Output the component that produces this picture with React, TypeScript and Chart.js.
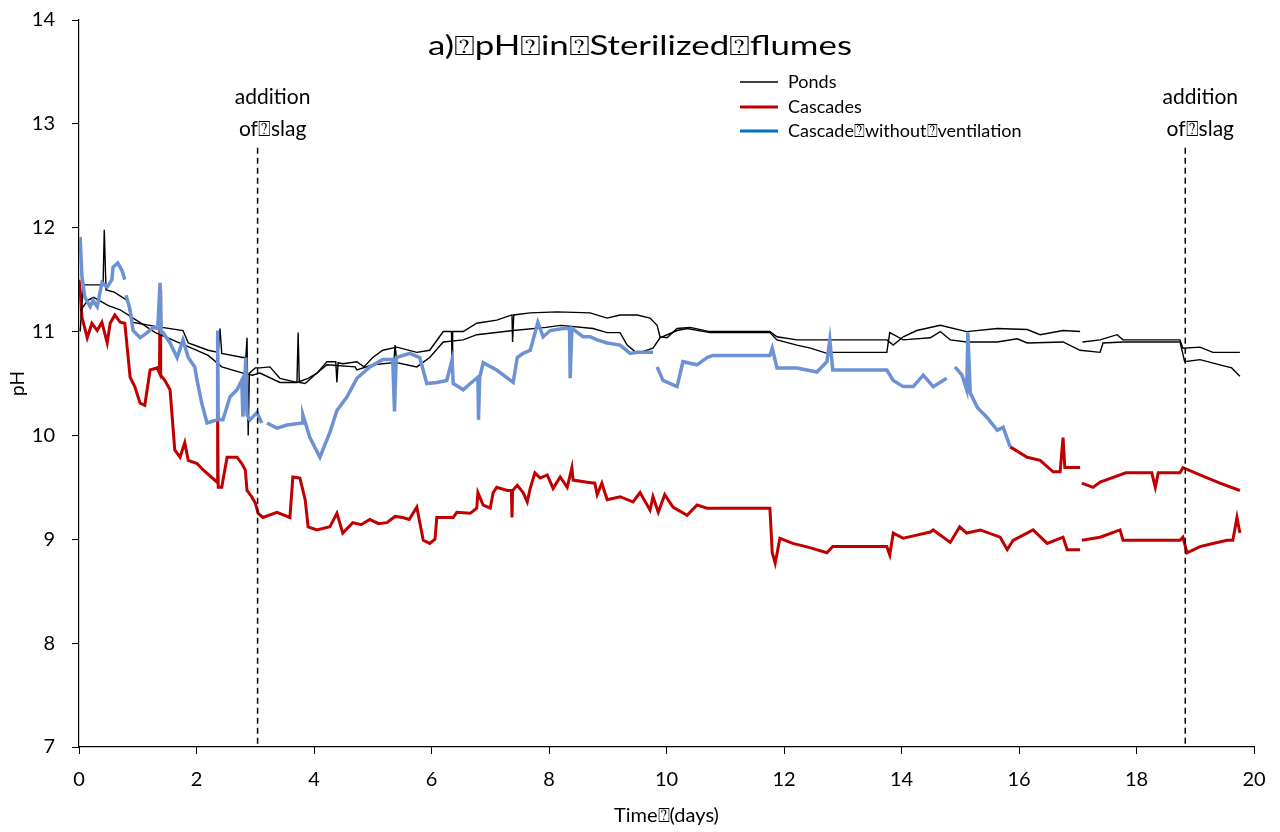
import React, { useEffect, useRef } from "react";
import { Chart, registerables } from "chart.js";

Chart.register(...registerables);

type P = { x: number; y: number | null };
const pts = (arr: (number | null)[][]): P[] =>
  arr.map((a) => ({ x: a[0] as number, y: a[1] as number | null }));

const TITLE = "a)\u2370pH\u2370in\u2370Sterilized\u2370flumes";
const X_TITLE = "Time\u2370(days)";
const Y_TITLE = "pH";
const LEGEND_LABELS = ["Ponds", "Cascades", "Cascade\u2370without\u2370ventilation"];
const ANNOT_TEXT = ["addition", "of\u2370slag"];
const SLAG_DAYS = [3.04, 18.83];
const X_TICKS = [0, 2, 4, 6, 8, 10, 12, 14, 16, 18, 20];
const Y_TICKS = [7, 8, 9, 10, 11, 12, 13, 14];

const pondsA = pts([
  [0.02, 11.0], [0.07, 11.45], [0.3, 11.45], [0.41, 11.45], [0.43, 11.98], [0.46, 11.4], [0.6, 11.38],
  [0.82, 11.3], [0.9, 11.09], [1.3, 11.05], [1.77, 11.01], [1.86, 10.89], [2.2, 10.82], [2.37, 10.8],
  [2.4, 11.03], [2.43, 10.79], [2.79, 10.75], [2.84, 10.75], [2.86, 10.94], [2.88, 10.0], [2.9, 10.6],
  [3.0, 10.65], [3.08, 10.65], [3.25, 10.66], [3.42, 10.55], [3.71, 10.51], [3.73, 10.99], [3.75, 10.51],
  [3.85, 10.5], [4.05, 10.6], [4.22, 10.71], [4.37, 10.71], [4.39, 10.51], [4.41, 10.7], [4.49, 10.69],
  [4.73, 10.71], [4.85, 10.66], [5.0, 10.75], [5.17, 10.82], [5.41, 10.85], [5.75, 10.8], [5.97, 10.82],
  [6.2, 11.0], [6.34, 11.0], [6.35, 10.71], [6.36, 11.0], [6.54, 11.0], [6.77, 11.08], [7.11, 11.11],
  [7.37, 11.16], [7.38, 10.9], [7.4, 11.16], [7.68, 11.18], [8.14, 11.19], [8.7, 11.18], [8.99, 11.13],
  [9.21, 11.16], [9.5, 11.16], [9.72, 11.13], [9.84, 11.06], [9.89, 10.95], [10.01, 10.94], [10.18, 11.03],
  [10.4, 11.04], [10.74, 11.0], [11.76, 11.0], [11.88, 10.95], [12.22, 10.92], [12.78, 10.92], [13.75, 10.92],
  [13.86, 10.87], [14.03, 10.95], [14.26, 11.01], [14.66, 11.06], [15.11, 11.0], [15.63, 11.03],
  [16.14, 11.02], [16.36, 10.97], [16.75, 11.01], [17.04, 11.0], [17.06, null], [17.08, 10.9],
  [17.38, 10.92], [17.67, 10.97], [17.77, 10.92], [18.74, 10.92], [18.79, 10.84], [19.08, 10.85],
  [19.3, 10.8], [19.76, 10.8],
]);

const pondsB = pts([
  [0.02, 11.2], [0.15, 11.3], [0.25, 11.33], [0.5, 11.25], [0.7, 11.21], [1.0, 11.1], [1.3, 10.99],
  [1.8, 10.87], [2.2, 10.77], [2.43, 10.66], [2.79, 10.6], [2.95, 10.58], [3.08, 10.6], [3.42, 10.51],
  [3.71, 10.51], [3.9, 10.55], [4.05, 10.6], [4.22, 10.68], [4.7, 10.66], [4.73, 10.63], [5.0, 10.68],
  [5.36, 10.7], [5.38, 10.87], [5.41, 10.7], [5.75, 10.66], [5.97, 10.75], [6.2, 10.9], [6.54, 10.92],
  [6.77, 10.97], [7.39, 11.01], [7.95, 11.04], [8.2, 11.06], [8.75, 11.03], [8.99, 10.99], [9.21, 10.99],
  [9.33, 10.87], [9.5, 10.79], [9.77, 10.84], [9.89, 10.94], [10.18, 11.01], [10.35, 11.03],
  [10.74, 10.99], [11.76, 10.99], [11.88, 10.92], [12.22, 10.87], [12.45, 10.84], [12.73, 10.79],
  [12.78, 10.8], [13.75, 10.8], [13.8, 10.99], [14.03, 10.92], [14.49, 10.94], [14.66, 11.0],
  [14.83, 10.92], [15.11, 10.9], [15.63, 10.9], [15.97, 10.93], [16.14, 10.89], [16.75, 10.9],
  [17.04, 10.82], [17.38, 10.8], [17.43, 10.89], [17.77, 10.9], [18.74, 10.9], [18.82, 10.71],
  [19.08, 10.73], [19.42, 10.68], [19.62, 10.65], [19.76, 10.57],
]);

const cascadesA = pts([
  [0, 11.5], [0.02, 11.4], [0.05, 11.14], [0.14, 10.94], [0.22, 11.08], [0.31, 11.01], [0.39, 11.09],
  [0.48, 10.89], [0.53, 11.08], [0.61, 11.16], [0.7, 11.09], [0.78, 11.08], [0.87, 10.56], [0.95, 10.47],
  [1.04, 10.31], [1.12, 10.29], [1.21, 10.63], [1.33, 10.65], [1.37, 10.6], [1.38, 11.4], [1.39, 10.58],
  [1.46, 10.53], [1.55, 10.44], [1.63, 9.86], [1.72, 9.79], [1.8, 9.93], [1.86, 9.76], [2.01, 9.73],
  [2.11, 9.67], [2.35, 9.55], [2.36, 10.15], [2.37, 9.5], [2.43, 9.5], [2.52, 9.79], [2.69, 9.79],
  [2.77, 9.73], [2.83, 9.67], [2.86, 9.47], [2.94, 9.41], [3.0, 9.35], [3.05, 9.25], [3.13, 9.21],
  [3.37, 9.26], [3.59, 9.21], [3.64, 9.6], [3.76, 9.59], [3.85, 9.38], [3.9, 9.12], [4.05, 9.09],
  [4.27, 9.12], [4.39, 9.25], [4.49, 9.06], [4.66, 9.16], [4.8, 9.14], [4.95, 9.19], [5.1, 9.15],
  [5.24, 9.16], [5.38, 9.22], [5.51, 9.21], [5.62, 9.19], [5.75, 9.31], [5.86, 8.99], [5.97, 8.96],
  [6.06, 9.0], [6.09, 9.21], [6.37, 9.21], [6.43, 9.26], [6.66, 9.25], [6.77, 9.3], [6.79, 9.45],
  [6.88, 9.33], [7.0, 9.3], [7.05, 9.45], [7.11, 9.5], [7.29, 9.47], [7.36, 9.47], [7.37, 9.21],
  [7.38, 9.47], [7.46, 9.52], [7.56, 9.45], [7.63, 9.36], [7.68, 9.49], [7.76, 9.64], [7.85, 9.59],
  [7.97, 9.62], [8.07, 9.49], [8.19, 9.6], [8.31, 9.5], [8.39, 9.69], [8.41, 9.57], [8.65, 9.55],
  [8.78, 9.54], [8.82, 9.43], [8.9, 9.54], [8.99, 9.38], [9.21, 9.41], [9.43, 9.36], [9.55, 9.45],
  [9.72, 9.28], [9.77, 9.41], [9.86, 9.26], [9.97, 9.43], [10.11, 9.31], [10.35, 9.23], [10.52, 9.33],
  [10.69, 9.3], [11.76, 9.3], [11.8, 8.87],
  [11.85, 8.77], [11.93, 9.01], [12.15, 8.96], [12.44, 8.92], [12.73, 8.87], [12.83, 8.93], [13.75, 8.93],
  [13.8, 8.85], [13.86, 9.06], [14.03, 9.01], [14.26, 9.04], [14.49, 9.07], [14.54, 9.09], [14.83, 8.97],
  [14.99, 9.12], [15.11, 9.06], [15.34, 9.09], [15.68, 9.02], [15.8, 8.9], [15.9, 8.99], [16.24, 9.09],
  [16.48, 8.96], [16.75, 9.02], [16.82, 8.9], [17.04, 8.9], [17.05, null], [17.07, 8.99], [17.38, 9.02],
  [17.72, 9.09], [17.77, 8.99], [18.74, 8.99], [18.79, 9.02], [18.86, 8.87], [19.08, 8.93], [19.3, 8.96],
  [19.54, 8.99], [19.64, 8.99], [19.71, 9.21], [19.76, 9.06],
]);

const cascadesB = pts([
  [15.85, 9.89], [16.14, 9.79], [16.36, 9.76], [16.58, 9.65], [16.7, 9.65], [16.75, 9.98], [16.78, 9.69],
  [17.04, 9.69], [17.05, null], [17.07, 9.54], [17.26, 9.5], [17.38, 9.55], [17.82, 9.64], [18.26, 9.64],
  [18.32, 9.5], [18.37, 9.64], [18.74, 9.64], [18.79, 9.69], [19.08, 9.62], [19.42, 9.54], [19.76, 9.47],
]);

const noVent = pts([
  [0.02, 11.91], [0.05, 11.53], [0.1, 11.33], [0.19, 11.24], [0.24, 11.3], [0.31, 11.24], [0.39, 11.47],
  [0.48, 11.43], [0.56, 11.5], [0.58, 11.62], [0.66, 11.66], [0.73, 11.59], [0.78, 11.5], [0.79, null],
  [0.8, 11.35], [0.87, 11.21], [0.92, 11.01], [1.04, 10.94], [1.16, 10.99], [1.26, 11.04], [1.34, 11.03],
  [1.38, 11.47], [1.4, 10.99], [1.43, 10.99], [1.55, 10.89], [1.67, 10.75], [1.77, 10.92], [1.86, 10.75],
  [1.97, 10.66], [2.01, 10.53], [2.09, 10.31], [2.18, 10.12], [2.35, 10.15], [2.36, 11.01], [2.37, 10.15],
  [2.45, 10.15], [2.57, 10.37], [2.69, 10.44], [2.77, 10.53], [2.79, 10.18], [2.84, 10.75], [2.86, 10.2],
  [2.91, 10.15], [3.03, 10.22], [3.11, 10.12], [3.15, null], [3.2, 10.12], [3.37, 10.07], [3.54, 10.1],
  [3.8, 10.12], [3.81, 10.2], [3.93, 9.98], [4.1, 9.79], [4.27, 10.03], [4.39, 10.24], [4.56, 10.37],
  [4.73, 10.55], [4.95, 10.66], [5.17, 10.73], [5.34, 10.73], [5.37, 10.23], [5.4, 10.75], [5.63, 10.79],
  [5.8, 10.75], [5.92, 10.5], [6.09, 10.51], [6.26, 10.53], [6.35, 10.73], [6.37, 10.5], [6.54, 10.44],
  [6.66, 10.5], [6.79, 10.56], [6.8, 10.15], [6.82, 10.56], [6.88, 10.7], [7.11, 10.63], [7.39, 10.51],
  [7.46, 10.75], [7.56, 10.79], [7.68, 10.82], [7.73, 10.92], [7.81, 11.09], [7.9, 10.95], [8.02, 11.01],
  [8.24, 11.03], [8.35, 11.03], [8.36, 10.55], [8.39, 11.03], [8.58, 10.95], [8.7, 10.95], [8.82, 10.92],
  [8.99, 10.89], [9.21, 10.87], [9.38, 10.79], [9.5, 10.8], [9.77, 10.8], [9.8, null], [9.84, 10.66],
  [9.94, 10.53], [10.18, 10.47], [10.28, 10.71], [10.52, 10.68], [10.69, 10.75], [10.79, 10.77],
  [11.76, 10.77], [11.8, 10.84], [11.88, 10.65], [12.22, 10.65], [12.56, 10.61], [12.73, 10.71],
  [12.78, 10.92], [12.83, 10.63], [13.75, 10.63], [13.86, 10.53], [14.03, 10.47], [14.2, 10.47],
  [14.37, 10.58], [14.54, 10.47], [14.77, 10.55], [14.84, null], [14.91, 10.66], [15.03, 10.58],
  [15.11, 10.44], [15.13, 10.99], [15.17, 10.41], [15.29, 10.27], [15.46, 10.17], [15.63, 10.05],
  [15.73, 10.08], [15.85, 9.89],
]);

const FONT = "Lato, 'Open Sans', sans-serif";
const BLACK = "#000000";
const RED = "#C00000";
const BLUE_LINE = "#6C91D4";
const BLUE_LEGEND = "#0070C0";

const overlayPlugin = {
  id: "overlay",
  afterDatasetsDraw(chart: any) {
    const { ctx, scales, chartArea } = chart;
    const xs = scales.x;
    const ys = scales.y;
    ctx.save();
    // dashed slag lines
    ctx.strokeStyle = BLACK;
    ctx.lineWidth = 1.5;
    ctx.setLineDash([6, 4]);
    SLAG_DAYS.forEach((d) => {
      const px = xs.getPixelForValue(d);
      ctx.beginPath();
      ctx.moveTo(px, ys.getPixelForValue(12.77));
      ctx.lineTo(px, chartArea.bottom);
      ctx.stroke();
    });
    ctx.setLineDash([]);
    // annotation texts
    ctx.fillStyle = BLACK;
    ctx.font = `21px ${FONT}`;
    ctx.textAlign = "center";
    ctx.textBaseline = "middle";
    SLAG_DAYS.forEach((d) => {
      const px = xs.getPixelForValue(d) + 15;
      ctx.fillText(ANNOT_TEXT[0], px, 97);
      ctx.fillText(ANNOT_TEXT[1], px, 129);
    });
    // title (stretched horizontally to the reference width)
    ctx.font = `27px ${FONT}`;
    ctx.textBaseline = "alphabetic";
    const w = ctx.measureText(TITLE).width;
    const sx = 424 / w;
    ctx.save();
    ctx.translate(640, 55);
    ctx.scale(sx, 1);
    ctx.fillText(TITLE, 0, 0);
    ctx.restore();
    // legend
    const colors = [BLACK, RED, BLUE_LEGEND];
    const widths = [1.5, 3, 3];
    const ly = [82, 107, 131];
    ctx.font = `18px ${FONT}`;
    ctx.textAlign = "left";
    ctx.textBaseline = "middle";
    LEGEND_LABELS.forEach((lab, i) => {
      ctx.strokeStyle = colors[i];
      ctx.lineWidth = widths[i];
      ctx.beginPath();
      ctx.moveTo(740, ly[i]);
      ctx.lineTo(778, ly[i]);
      ctx.stroke();
      ctx.fillStyle = BLACK;
      ctx.fillText(lab, 788, ly[i]);
    });
    ctx.restore();
  },
};

export default function App() {
  const ref = useRef<HTMLCanvasElement | null>(null);
  useEffect(() => {
    document.body.style.margin = "0";
    if (!ref.current) return;
    const line = (data: P[], color: string, width: number, order: number) => ({
      data,
      borderColor: color,
      backgroundColor: color,
      borderWidth: width,
      pointRadius: 0,
      tension: 0,
      spanGaps: false,
      order,
    });
    const chart = new Chart(ref.current, {
      type: "line",
      data: {
        datasets: [
          { label: "Ponds", ...line(pondsA, BLACK, 1.4, 2) },
          { label: "Ponds 2", ...line(pondsB, BLACK, 1.4, 2) },
          { label: "Cascades", ...line(cascadesA, RED, 3, 3) },
          { label: "Cascades 2", ...line(cascadesB, RED, 3, 3) },
          { label: "Cascade without ventilation", ...line(noVent, BLUE_LINE, 3.5, 1) },
        ],
      },
      options: {
        animation: false,
        responsive: false,
        parsing: true,
        layout: { padding: { top: 20, right: 26, left: 0, bottom: 0 } },
        plugins: {
          legend: { display: false },
          title: { display: false },
          tooltip: { enabled: false },
        },
        scales: {
          x: {
            type: "linear",
            min: 0,
            max: 20,
            afterBuildTicks: (s: any) => {
              s.ticks = X_TICKS.map((v) => ({ value: v }));
            },
            afterFit: (s: any) => {
              s.height = 85;
            },
            ticks: { color: BLACK, font: { family: FONT, size: 20 }, padding: 14, maxRotation: 0 },
            grid: { display: true, drawOnChartArea: false, drawTicks: true, tickLength: 7, color: BLACK, lineWidth: 1 },
            border: { display: true, color: BLACK, width: 1.2 },
            title: { display: true, text: X_TITLE, color: BLACK, font: { family: FONT, size: 20 }, padding: { top: 0, bottom: 4 } },
          },
          y: {
            type: "linear",
            min: 7,
            max: 14,
            afterBuildTicks: (s: any) => {
              s.ticks = Y_TICKS.map((v) => ({ value: v }));
            },
            afterFit: (s: any) => {
              s.width = 79;
              s.paddingTop = 0;
              s.paddingBottom = 0;
            },
            ticks: { color: BLACK, font: { family: FONT, size: 20 }, padding: 17 },
            grid: { display: true, drawOnChartArea: false, drawTicks: true, tickLength: 7, color: BLACK, lineWidth: 1 },
            border: { display: true, color: BLACK, width: 1.2 },
            title: { display: true, text: Y_TITLE, color: BLACK, font: { family: FONT, size: 19 }, padding: { top: 6, bottom: 0 } },
          },
        },
      },
      plugins: [overlayPlugin],
    } as any);
    return () => chart.destroy();
  }, []);
  return (
    <div style={{ width: 1280, height: 832, background: "#fff" }}>
      <canvas ref={ref} width={1280} height={832} style={{ display: "block" }} />
    </div>
  );
}
